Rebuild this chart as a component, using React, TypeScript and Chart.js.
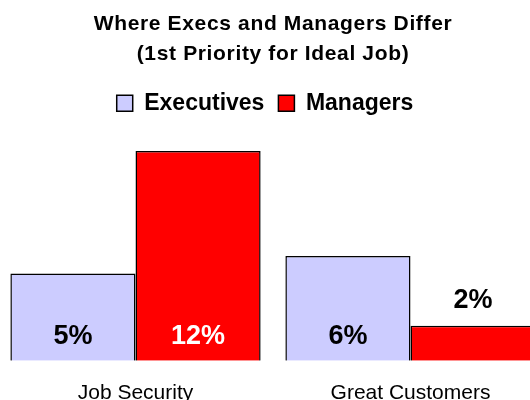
import React, { useEffect, useRef } from "react";
import { Chart, registerables } from "chart.js";

Chart.register(...registerables);

const categories = ["Job Security", "Great Customers"];
const seriesNames = ["Executives", "Managers"];
const executives = [5, 6];
const managers = [12, 2];
const titleLines = ["Where Execs and Managers Differ", "(1st Priority for Ideal Job)"];

const FONT = "'Liberation Sans', Arial, Helvetica, sans-serif";

const valueLabels = {
  id: "valueLabels",
  afterDatasetsDraw(chart: any) {
    const ctx = chart.ctx;
    ctx.save();
    ctx.font = `bold 27px ${FONT}`;
    ctx.textAlign = "center";
    ctx.textBaseline = "alphabetic";
    chart.data.datasets.forEach((ds: any, di: number) => {
      const meta = chart.getDatasetMeta(di);
      meta.data.forEach((bar: any, i: number) => {
        const v = ds.data[i];
        const { x, y, base } = bar.getProps(["x", "y", "base"], true);
        const h = base - y;
        const text = v + "%";
        if (h > 50) {
          ctx.fillStyle = di === 1 ? "#ffffff" : "#000000";
          ctx.fillText(text, x, base - 17);
        } else {
          ctx.fillStyle = "#000000";
          ctx.fillText(text, x, y - 18);
        }
      });
    });
    ctx.restore();
  },
};

const stylePatch = {
  id: "stylePatch",
  beforeDraw(chart: any) {
    const t = chart.titleBlock;
    if (t && !t.__patched) {
      const orig = t.draw.bind(t);
      t.draw = (...args: any[]) => {
        const c = chart.ctx;
        c.save();
        c.letterSpacing = "0.65px";
        orig(...args);
        c.restore();
      };
      t.__patched = true;
    }
    const l = chart.legend;
    if (l && !l.__patched) {
      const origL = l.draw.bind(l);
      l.draw = (...args: any[]) => {
        const c = chart.ctx;
        c.save();
        c.translate(-8, 0);
        origL(...args);
        c.restore();
      };
      l.__patched = true;
    }
  },
};

export default function App() {
  const ref = useRef<HTMLCanvasElement | null>(null);

  useEffect(() => {
    if (!ref.current) return;
    const chart = new Chart(ref.current, {
      type: "bar",
      data: {
        labels: categories,
        datasets: [
          {
            label: seriesNames[0],
            data: executives,
            backgroundColor: "#CCCCFF",
            borderColor: "#000000",
            borderWidth: 1.5,
            categoryPercentage: 0.91,
            barPercentage: 1.0,
          },
          {
            label: seriesNames[1],
            data: managers,
            backgroundColor: "#FF0000",
            borderColor: "#000000",
            borderWidth: 1.5,
            categoryPercentage: 0.91,
            barPercentage: 1.0,
          },
        ],
      },
      options: {
        responsive: false,
        animation: false,
        layout: { padding: 0 },
        plugins: {
          title: {
            display: true,
            text: titleLines,
            color: "#000000",
            font: { family: FONT, size: 21, weight: "bold", lineHeight: 1.4 },
            padding: { top: 10, bottom: 9 },
          },
          legend: {
            display: true,
            position: "top",
            labels: {
              color: "#000000",
              font: { family: FONT, size: 23, weight: "bold" },
              boxWidth: 16,
              boxHeight: 16,
              padding: 14,
            },
          },
          tooltip: { enabled: false },
        },
        scales: {
          x: {
            grid: { display: false },
            border: { display: false },
            ticks: { color: "#000000", font: { family: FONT, size: 21 }, padding: 12 },
          },
          y: { display: false, min: 0, max: 13.5 },
        },
      },
      plugins: [valueLabels, stylePatch],
    });
    return () => chart.destroy();
  }, []);

  return (
    <div style={{ position: "fixed", left: -2, top: 0, width: 550, height: 418, background: "#fff" }}>
      <canvas ref={ref} width={550} height={418} style={{ display: "block" }} />
    </div>
  );
}
